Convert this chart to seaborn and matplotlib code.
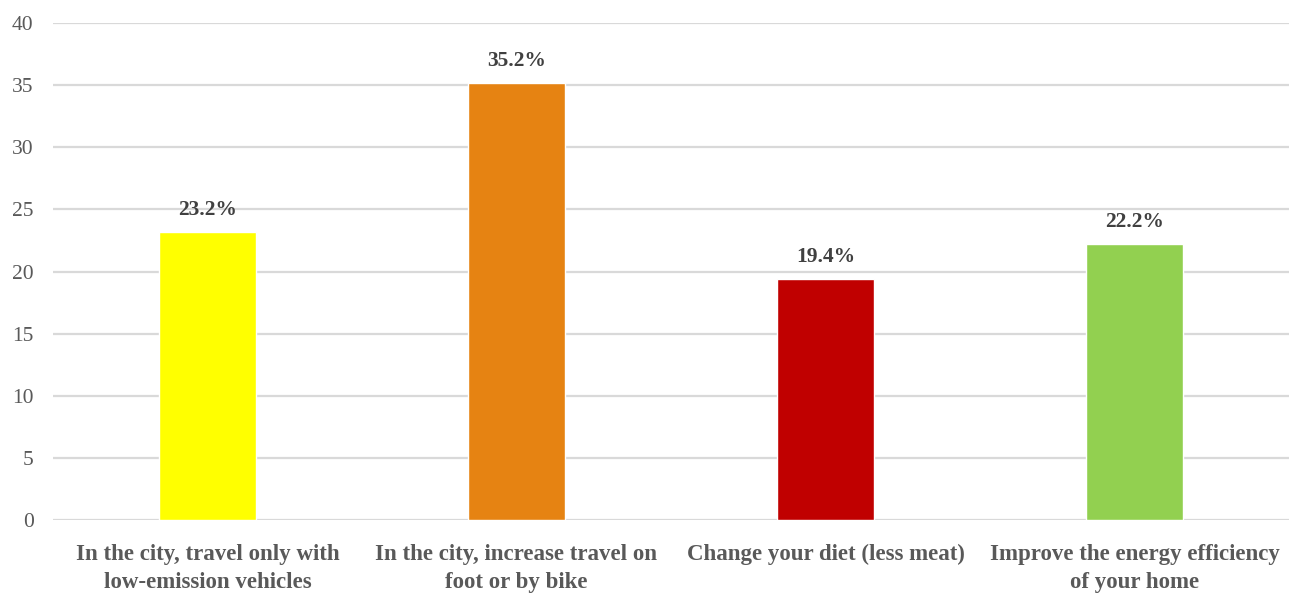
import matplotlib
matplotlib.use("Agg")
import matplotlib.pyplot as plt
import seaborn as sns
import pandas as pd

categories = [
    "In the city, travel only with\nlow-emission vehicles",
    "In the city, increase travel on\nfoot or by bike",
    "Change your diet (less meat)",
    "Improve the energy efficiency\nof your home",
]
values = [23.2, 35.2, 19.4, 22.2]
colors = ["#FFFF00", "#E68312", "#C00000", "#92D050"]
yticks = [0, 5, 10, 15, 20, 25, 30, 35, 40]

sns.set_theme(style="white")
plt.rcParams["font.family"] = ["Liberation Serif", "DejaVu Serif"]

df = pd.DataFrame({"action": categories, "share": values})

fig = plt.figure(figsize=(12.89, 5.93), dpi=100)
ax = fig.add_axes([0.0411, 0.1231, 0.9589, 0.8381])

sns.barplot(data=df, x="action", y="share", hue="action", palette=colors,
            width=0.314, legend=False, ax=ax, saturation=1)

ax.set_ylim(0, 40)
ax.set_xlim(-0.5, 3.5)
ax.set_yticks(yticks)
ax.yaxis.grid(True, color="#D9D9D9", linewidth=1.6)
ax.set_axisbelow(True)
for s in ax.spines.values():
    s.set_visible(False)
ax.set_xlabel("")
ax.set_ylabel("")
ax.tick_params(axis="y", length=0, pad=14, labelsize=15.5, labelcolor="#595959")
ax.tick_params(axis="x", length=0, pad=17, labelsize=16.5, labelcolor="#595959")
for lbl in ax.get_xticklabels():
    lbl.set_fontweight("bold")
    lbl.set_linespacing(1.45)

for i, v in enumerate(values):
    ax.annotate(f"{v}%", (i, v), xytext=(0, 8.5), textcoords="offset points",
                ha="center", va="bottom", fontsize=15.5, fontweight="bold",
                color="#404040")

fig.savefig("out.png", dpi=100)
